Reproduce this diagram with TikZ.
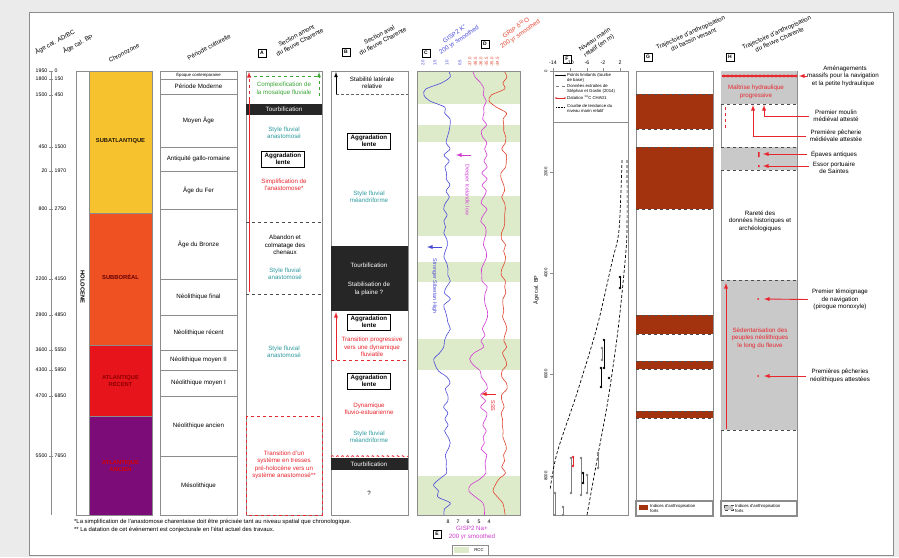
\documentclass[tikz,border=0pt]{standalone}
\usepackage{fontspec}
\setmainfont{Liberation Sans}
\usetikzlibrary{decorations.pathmorphing}
\definecolor{bggray}{HTML}{EBEBEB}
\definecolor{colframe}{HTML}{8C8C8C}
\definecolor{subatl}{HTML}{F6C22D}
\definecolor{subbor}{HTML}{EF5123}
\definecolor{atlrec}{HTML}{E8141C}
\definecolor{atlanc}{HTML}{7B0C78}
\definecolor{tealtxt}{HTML}{2E9A9E}
\definecolor{redtxt}{HTML}{E8262E}
\definecolor{greentxt}{HTML}{3AA535}
\definecolor{rcc}{HTML}{DDEBCB}
\definecolor{anthro}{HTML}{A3330F}
\definecolor{hgray}{HTML}{C9C9C9}
\definecolor{kblue}{HTML}{4A4AD8}
\definecolor{namag}{HTML}{D03CD0}
\definecolor{dored}{HTML}{E0452E}

\tikzset{
  declare function={bump(\t,\c,\w)=max(0,1-((\t-\c)/\w)*((\t-\c)/\w));},
  txt/.style={font=\fontsize{6.2}{7.4}\selectfont, align=center, inner sep=0pt},
  small/.style={font=\fontsize{4.3}{5}\selectfont, inner sep=0pt},
  tick/.style={font=\fontsize{5.2}{6}\selectfont, inner sep=0pt},
  hdr/.style={txt, rotate=28},
  zone/.style={txt, font=\bfseries\fontsize{5.8}{7}\selectfont},
  letter/.style={draw, fill=white, font=\bfseries\fontsize{5}{6}\selectfont, minimum size=7.5pt, inner sep=0pt},
  aggbox/.style={draw, line width=0.8pt, fill=white, align=center, inner sep=0pt, font=\bfseries\fontsize{6.2}{7.4}\selectfont, minimum width=43pt, minimum height=16pt},
  colbox/.style={draw=colframe, line width=0.7pt},
  redarr/.style={redtxt, line width=0.9pt, -latex},
  band/.style={dashed, line width=0.6pt, black!70}
}

\begin{document}
\begin{tikzpicture}[x=1pt,y=-1pt]
\useasboundingbox (0,0) rectangle (899,557);
\fill[bggray] (0,0) rectangle (899,557);
\draw[colbox, fill=white] (29,12) rectangle (893,555);

\node[hdr] (hAD) at (55,42) {Âge cal. AD/BC};
\node[hdr] (hBP) at (78,44) {Âge cal. BP};
\node[hdr] (hChrono) at (124,53) {Chronozone};
\node[hdr] (hPeriode) at (209,47) {Période culturelle};
\node[letter] (lA) at (262,53) {A};
\node[hdr] (hA) at (298,39) {Section amont\\du fleuve Charente};
\node[letter] (lB) at (346,52) {B};
\node[hdr] (hB) at (381,38) {Section aval\\du fleuve Charente};
\node[letter] (lC) at (426,53) {C};
\node[hdr, rotate=6, text=kblue] (hC) at (457,37) {GISP2 K\textsuperscript{+}\\200 yr smoothed};
\node[letter] (lD) at (485,44) {D};
\node[hdr, rotate=6, text=dored] (hD) at (518,31) {GRIP δ\textsuperscript{18}O\\200 yr smoothed};
\node[letter] (lF) at (567,59) {F};
\node[hdr, rotate=6] (hF) at (597,43) {Niveau marin\\relatif (en m)};
\node[letter] (lG) at (648,57) {G};
\node[hdr, rotate=-4] (hG) at (692,36) {Trajectoire d'anthropisation\\du bassin versant};
\node[letter] (lH) at (730,57) {H};
\node[hdr, rotate=-4] (hH) at (778,36) {Trajectoire d'anthropisation\\du fleuve Charente};

\draw[colframe] (51,71) -- (51,515);
\foreach \y/\ad/\bp in {71/1950/0, 79/1800/150, 95/1500/450, 147/450/1500, 171/20/1970, 209/800/2750, 279/2200/4150, 315/2900/4850, 350/3600/5550, 370/4300/5950, 396/4700/6850, 456/5500/7650}{
  \draw[colframe] (49,\y) -- (53,\y);
  \node[tick, anchor=east] (ad\y) at (47.5,\y) {\ad};
  \node[tick, anchor=west] (bp\y) at (54.5,\y) {\bp};
}

\draw[colbox, fill=white] (76,71) rectangle (89,515);
\node[zone, rotate=-90] (holo) at (82.5,287) {HOLOCENE};
\filldraw[fill=subatl, draw=colframe] (89,71) rectangle (152,213);
\filldraw[fill=subbor, draw=colframe] (89,213) rectangle (152,345);
\filldraw[fill=atlrec, draw=colframe] (89,345) rectangle (152,416);
\filldraw[fill=atlanc, draw=colframe] (89,416) rectangle (152,515);
\node[zone, text=black!80!brown] (zSubatl) at (120.5,141) {SUBATLANTIQUE};
\node[zone, text=black!60!red] (zSubbor) at (120.5,277) {SUBBORÉAL};
\node[zone, text=red!55!black] (zAtlrec) at (120.5,381) {ATLANTIQUE\\RÉCENT};
\node[zone, text=red!85!black] (zAtlanc) at (120.5,466) {ATLANTIQUE\\ANCIEN};

\draw[colbox] (160,71) rectangle (237,79);
\node[small] (perContemp) at (198.5,75) {Époque contemporaine};
\foreach \a/\b/\n in {79/94/Période Moderne, 94/147/Moyen Âge, 147/171/Antiquité gallo-romaine, 171/209/Âge du Fer, 209/279/Âge du Bronze, 279/315/Néolithique final, 315/350/Néolithique récent, 350/370/Néolithique moyen II, 370/396/Néolithique moyen I, 396/456/Néolithique ancien, 456/515/Mésolithique}{
  \draw[colbox] (160,\a) rectangle (237,\b);
  \node[txt] (per\a) at (198.5,{(\a+\b)/2}) {\n};
}

\draw[colbox] (246,71) rectangle (322,515);
\draw[greentxt, dashed, line width=0.8pt] (248,76) -- (318,76);
\draw[greentxt, dashed, line width=0.8pt, -latex] (319,96) -- (319,72);
\node[txt, text=greentxt] (aComplex) at (284,89) {Complexification de\\la mosaïque fluviale};
\fill[black!85] (246,104) rectangle (322,115);
\node[txt, text=white] (aTourb) at (284,109.5) {Tourbification};
\node[txt, text=tealtxt] (aStyle1) at (284,133) {Style fluvial\\anastomosé};
\node[aggbox] (aAgg) at (283,159) {Aggradation\\lente};
\node[txt, text=redtxt] (aSimpl) at (284,185) {Simplification de\\l'anastomose*};
\draw[redtxt, line width=0.9pt] (249,292) -- (249,100);
\draw[redtxt, line width=0.9pt, dashed, -latex] (249,100) -- (249,72);
\draw[dashed, black!70] (246,222) -- (322,222);
\node[txt] (aAbandon) at (285,245) {Abandon et\\colmatage des\\chenaux};
\node[txt, text=tealtxt] (aStyle2) at (285,274) {Style fluvial\\anastomosé};
\draw[dashed, black!70] (246,294) -- (322,294);
\node[txt, text=tealtxt] (aStyle3) at (284,352) {Style fluvial\\anastomosé};
\draw[redtxt, dashed, line width=0.8pt] (246,416) rectangle (322,515);
\node[txt, text=redtxt] (aTransit) at (284,465) {Transition d'un\\système en tresses\\pré-holocène vers un\\système anastomosé**};

\draw[colbox] (331,71) rectangle (408,515);
\draw[line width=0.8pt, -latex] (336,94) -- (336,72);
\node[txt] (bStab) at (372,83) {Stabilité latérale\\relative};
\draw[densely dashed, black!60] (336,94) -- (408,94);
\node[aggbox] (bAgg1) at (369,141) {Aggradation\\lente};
\node[txt, text=tealtxt] (bStyle1) at (369,197) {Style fluvial\\méandriforme};
\fill[black!85] (331,246) rectangle (408,311);
\node[txt, text=white] (bTourb1) at (369,265) {Tourbification};
\node[txt, text=white] (bPlaine) at (369,289) {Stabilisation de\\la plaine ?};
\node[aggbox] (bAgg2) at (369,322) {Aggradation\\lente};
\draw[redtxt, dashed, line width=0.8pt] (331,360) -- (408,360);
\draw[redtxt, line width=0.9pt, -latex] (336,360) -- (336,312);
\node[txt, text=redtxt] (bTransit) at (372,347) {Transition progressive\\vers une dynamique\\fluviatile};
\node[aggbox] (bAgg3) at (369,381) {Aggradation\\lente};
\node[txt, text=redtxt] (bDyn) at (369,409) {Dynamique\\fluvio-estuarienne};
\node[txt, text=tealtxt] (bStyle2) at (369,437) {Style fluvial\\méandriforme};
\fill[black!85] (331,458) rectangle (408,470);
\draw[redtxt, dashed, line width=0.8pt, decorate, decoration={snake, amplitude=0.8pt, segment length=5pt}] (331,456.5) -- (408,456.5);
\node[txt, text=white] (bTourb2) at (369,464) {Tourbification};
\node[txt] (bQuest) at (369,493) {?};

\begin{scope}
\clip (417,71) rectangle (520,515);
\foreach \a/\b in {71/104, 125/142, 196/236, 262/282, 339/370, 476/515}
  \fill[rcc] (417,\a) rectangle (520,\b);
\pgfmathsetseed{12}
\draw[kblue, line width=0.6pt] plot[smooth, domain=0:444, samples=75, variable=\t] ({447-22*bump(\t,24,14)-13*bump(\t,290,16)-12*bump(\t,418,14)+3.5*rand}, {71+\t});
\draw[namag, line width=0.6pt] plot[smooth, domain=0:444, samples=75, variable=\t] ({484-13*bump(\t,2,12)-15*bump(\t,289,15)-12*bump(\t,419,13)+3.5*rand}, {71+\t});
\draw[dored, line width=0.6pt] plot[smooth, domain=0:444, samples=75, variable=\t] ({504-13*bump(\t,30,12)-9*bump(\t,419,13)+3*rand}, {71+\t});
\end{scope}
\draw[colbox] (417,71) rectangle (520,515);
\foreach \x/\v in {423/2.0, 435/1.5, 447/1.0, 460/0.5}
  \node[small, text=kblue, rotate=90] (cTick\x) at (\x,63) {\v};
\foreach \x/\v in {470/-37.0, 475.5/-36.5, 481/-36.0, 486.5/-35.5, 492/-35.0, 497.5/-34.5}
  \node[small, text=dored, rotate=90] (dTick\x) at (\x,62) {\v};
\draw[namag, line width=0.9pt, -latex] (471,155) -- (456,155);
\node[txt, text=namag, rotate=-90, font=\fontsize{5.4}{6}\selectfont] (cIceland) at (467,190) {Deeper Icelandic low};
\draw[kblue, line width=0.9pt, -latex] (442,247) -- (427,247);
\node[txt, text=kblue, rotate=-90, font=\fontsize{5.4}{6}\selectfont] (cSiberia) at (434.5,286) {Stronger Siberian High};
\draw[redtxt, line width=0.9pt, -latex] (496,394) -- (481,394);
\node[txt, text=redtxt, rotate=-90, font=\fontsize{5.4}{6}\selectfont] (cSss) at (493,406) {SSS};
\foreach \x/\v in {448/8, 458/7, 468/6, 479/5, 489/4}
  \node[tick] (eTick\v) at (\x,522) {\v};
\node[letter] (lE) at (437,534) {E};
\node[txt, text=namag] (hE) at (472,533) {GISP2 Na+\\200 yr smoothed};
\draw[colbox] (452,545) rectangle (488,555);
\fill[rcc] (454,547) rectangle (469,553);
\node[small] (rccLeg) at (479,550) {RCC};

\draw[colbox] (553,71) rectangle (628,515);
\foreach \x/\v in {553/-14, 570/-10, 587/-6, 603/-2, 620/2}{
  \draw[colframe] (\x,68) -- (\x,71);
  \node[tick] (fTop\x) at (\x,63) {\v};
}
\foreach \y/\v in {71/0, 172/2000, 273/4000, 374/6000, 476/8000}{
  \draw[colframe] (550,\y) -- (553,\y);
  \node[small, rotate=90] (fAge\v) at (546,\y) {\v};
}
\node[txt, rotate=90, font=\fontsize{5.4}{6}\selectfont] (fAxis) at (536,290) {Âge cal. BP};
\draw[colbox] (553,71) rectangle (628,122);
\draw[line width=0.6pt] (556,75.5) -- (565,75.5);
\fill (556,75.5) circle (0.9) (565,75.5) circle (0.9);
\node[small, anchor=north west, align=left] (legPts) at (567,73) {Points limitants (tourbe\\de base)};
\draw[gray, dashed, line width=0.5pt] (556,86.5) -- (565,86.5);
\node[small, anchor=north west, align=left] (legSG) at (567,84) {Données extraites de\\Stéphan et Goslin (2014)};
\draw[redtxt, line width=0.6pt] (556,98) -- (565,98);
\fill[redtxt] (556,98) circle (0.9) (565,98) circle (0.9);
\node[small, anchor=north west, align=left] (legC14) at (567,95.5) {Datation \textsuperscript{14}C CHA01};
\draw[densely dotted, line width=0.6pt] (556,107) -- (565,107);
\node[small, anchor=north west, align=left] (legTrend) at (567,104.5) {Courbe de tendance du\\niveau marin relatif};
\draw[densely dashed, line width=0.7pt] plot[smooth] coordinates {(622,160) (619,230) (612,262) (597,327) (577,393) (557,453) (550,490)};
\draw[densely dashed, line width=0.7pt] plot[smooth] coordinates {(627,160) (627,230) (625,262) (618,330) (608,400) (597,460) (587,515)};
\foreach \x/\a/\b in {571/458/493, 581/458/495, 587/475/493, 555/493/515, 563/507/515, 598/453/468, 602/348/360}{
  \draw[gray] (\x,\a) -- (\x,\b);
  \fill[gray] (\x,\a) circle (1.3) (\x,\b) circle (1.3);
}
\foreach \x/\a/\b in {620/277/288, 604/340/368, 601/368/387, 583/473/483}{
  \draw[line width=0.8pt] (\x,\a) -- (\x,\b);
  \fill (\x,\a) circle (1.4) (\x,\b) circle (1.4);
}
\fill (609,378) circle (1.4);
\draw[redtxt, line width=0.8pt] (573,457) -- (573,466);
\fill[redtxt] (573,457) circle (1.4) (573,466) circle (1.4);

\draw[colbox] (636,71) rectangle (713,501);
\foreach \a/\b in {94/129, 147/209, 315/334, 361/369, 411/418}{
  \fill[anthro] (636,\a) rectangle (713,\b);
  \draw[band] (636,\a) -- (713,\a) (636,\b) -- (713,\b);
}
\draw[colbox, line width=1.2pt] (636,501) rectangle (713,516);
\fill[anthro] (639,505) rectangle (648,510);
\node[small, anchor=north west, align=left] (gLeg) at (650,504) {Indices d'anthropisation\\forts};

\draw[colbox] (721,71) rectangle (797,501);
\fill[hgray] (721,71) rectangle (797,104);
\fill[hgray] (721,147) rectangle (797,170);
\fill[hgray] (721,280) rectangle (797,430);
\draw[band] (721,104) -- (797,104) (721,147) -- (797,147) (721,170) -- (797,170) (721,280) -- (797,280) (721,430) -- (797,430);
\draw[redtxt, line width=1.2pt] (722,76) -- (796,76);
\draw[redtxt, line width=3.2pt, line cap=round, dash pattern=on 0pt off 4pt] (724,76) -- (796,76);
\node[txt, text=redtxt] (hMaitrise) at (756,92) {Maîtrise hydraulique\\progressive};
\draw[redtxt, dashed, line width=0.9pt] (725,107) -- (725,130);
\node[txt] (hRarete) at (760,221) {Rareté des\\données historiques et\\archéologiques};
\draw[redarr] (726,429) -- (726,283);
\node[txt, text=redtxt] (hSedent) at (760,338) {Sédentarisation des\\peuples néolithiques\\le long du fleuve};
\draw[colbox, line width=1.2pt] (721,501) rectangle (797,516);
\fill[hgray] (724,505) rectangle (733,510);
\draw[band] (724,505) rectangle (733,510);
\node[small, anchor=north west, align=left] (hLeg) at (735,504) {Indices d'anthropisation\\forts};

\coordinate (hTop) at (799,76);
\coordinate (hMoulin) at (764,105);
\coordinate (hPeche) at (753,105);
\fill[redtxt] (758,152) rectangle (759.5,157) (758,165) rectangle (759.5,167);
\coordinate (hEpave) at (763,154);
\coordinate (hEssor) at (763,166);
\fill[redtxt] (758,299) circle (1);
\coordinate (hPirogue) at (764,299);
\fill[redtxt] (758,376) circle (1);
\coordinate (hPechNeo) at (764,376);

\node[txt, anchor=west] (tAmenag) at (807,76) {\hspace*{4pt}Aménagements\\massifs pour la navigation\\et la petite hydraulique};
\node[txt] (tMoulin) at (836,116) {Premier moulin\\médiéval attesté};
\node[txt] (tPeche) at (836,136) {Première pêcherie\\médiévale attestée};
\node[txt] (tEpave) at (834,154) {Épaves antiques};
\node[txt] (tEssor) at (834,167.5) {Essor portuaire\\de Saintes};
\node[txt] (tPirogue) at (840,299.5) {Premier témoignage\\de navigation\\(pirogue monoxyle)};
\node[txt] (tPechNeo) at (840,376) {Premières pêcheries\\néolithiques attestées};
\draw[redarr] (tAmenag.west) -- (hTop);
\draw[redarr] (tMoulin.west) ++(-4,0) -| (hMoulin);
\draw[redarr] (tPeche.west) ++(-4,0) -| (hPeche);
\draw[redarr] (tEpave.west) ++(-4,0) -- (hEpave);
\draw[redarr] (tEssor.west |- hEssor) ++(-4,0) -- (hEssor);
\draw[redarr] (tPirogue.west) ++(-4,0) -- (hPirogue);
\draw[redarr] (tPechNeo.west) ++(-4,0) -- (hPechNeo);

\node[txt, anchor=west, font=\fontsize{5.9}{7}\selectfont] (note1) at (74,522) {*La simplification de l'anastomose charentaise doit être précisée tant au niveau spatial que chronologique.};
\node[txt, anchor=west, font=\fontsize{5.9}{7}\selectfont] (note2) at (74,530) {** La datation de cet événement est conjecturale en l'état actuel des travaux.};
\end{tikzpicture}
\end{document}
